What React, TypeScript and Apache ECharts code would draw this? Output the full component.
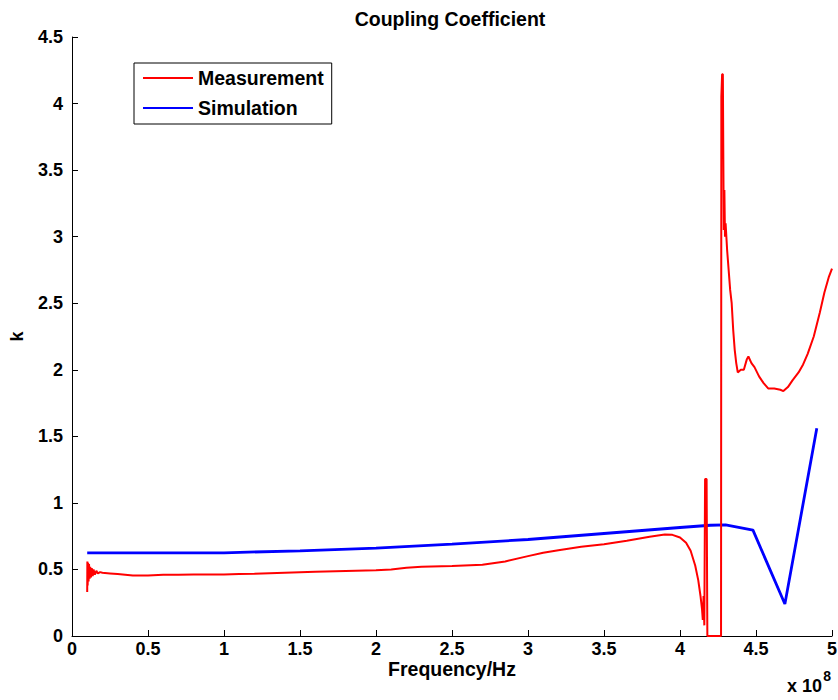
import React, { useEffect, useRef } from "react";
import * as echarts from "echarts";

const chartTitle = "Coupling Coefficient";
const xAxisName = "Frequency/Hz";
const yAxisName = "k";
const seriesNames = ["Measurement", "Simulation"];

// x in units of 1e8 Hz
const measurement: [number, number][] = [
  [0.100, 0.33], [0.101, 0.56], [0.103, 0.38], [0.106, 0.55], [0.109, 0.41], [0.112, 0.54],
  [0.116, 0.43], [0.120, 0.52], [0.125, 0.44], [0.130, 0.51], [0.136, 0.45], [0.142, 0.50],
  [0.150, 0.46], [0.160, 0.49], [0.170, 0.47], [0.185, 0.48], [0.20, 0.475], [0.25, 0.47],
  [0.30, 0.465], [0.40, 0.455], [0.50, 0.455], [0.60, 0.46], [0.70, 0.46], [0.80, 0.462],
  [0.90, 0.462], [1.00, 0.462], [1.10, 0.465], [1.20, 0.468], [1.40, 0.475], [1.60, 0.482],
  [1.80, 0.488], [2.00, 0.494], [2.10, 0.50], [2.20, 0.512], [2.30, 0.52], [2.50, 0.525],
  [2.70, 0.535], [2.85, 0.56], [3.00, 0.60], [3.10, 0.625], [3.20, 0.645], [3.35, 0.67],
  [3.50, 0.69], [3.65, 0.715], [3.80, 0.745], [3.90, 0.762], [3.95, 0.76], [4.00, 0.74],
  [4.04, 0.70], [4.07, 0.64], [4.10, 0.53], [4.12, 0.42], [4.135, 0.30], [4.145, 0.20],
  [4.15, 0.12], [4.155, 0.30], [4.16, 0.08], [4.165, 1.18], [4.175, 1.18], [4.18, 0],
  [4.27, 0], [4.272, 4.05], [4.277, 4.22], [4.282, 4.22], [4.285, 3.6], [4.288, 3.05],
  [4.292, 3.35], [4.296, 3.0], [4.30, 3.1], [4.31, 2.9], [4.32, 2.75], [4.33, 2.6],
  [4.34, 2.5], [4.35, 2.3], [4.36, 2.15], [4.37, 2.05], [4.38, 1.98], [4.40, 2.0],
  [4.42, 2.0], [4.44, 2.08], [4.45, 2.1], [4.47, 2.05], [4.49, 2.02], [4.52, 1.95],
  [4.55, 1.9], [4.58, 1.86], [4.62, 1.86], [4.66, 1.85], [4.68, 1.84], [4.71, 1.87],
  [4.74, 1.92], [4.78, 1.98], [4.81, 2.04], [4.84, 2.12], [4.88, 2.25], [4.92, 2.43],
  [4.95, 2.58], [4.98, 2.7], [5.00, 2.76],
];

const simulation: [number, number][] = [
  [0.1, 0.625], [1.0, 0.625], [1.5, 0.64], [2.0, 0.66], [2.5, 0.69], [3.0, 0.725],
  [3.5, 0.77], [4.0, 0.815], [4.2, 0.832], [4.3, 0.835], [4.48, 0.795], [4.69, 0.24],
  [4.9, 1.56],
];

const FONT = "Liberation Sans, Arial, sans-serif";

export default function App() {
  const ref = useRef<HTMLDivElement>(null);
  useEffect(() => {
    if (!ref.current) return;
    const chart = echarts.init(ref.current, undefined, { renderer: "svg" });
    chart.setOption({
      animation: false,
      backgroundColor: "#ffffff",
      title: {
        text: chartTitle,
        left: 445,
        textAlign: "center",
        top: 4,
        textStyle: { fontFamily: FONT, fontSize: 19.5, fontWeight: "bold", color: "#000" },
      },
      legend: {
        orient: "vertical",
        left: 134,
        top: 63,
        padding: [5, 8, 6, 9],
        itemGap: 10,
        itemWidth: 50,
        itemHeight: 2,
        icon: "rect",
        borderColor: "#000",
        borderWidth: 1,
        backgroundColor: "#fff",
        textStyle: { fontFamily: FONT, fontSize: 19.5, fontWeight: "bold", color: "#000", lineHeight: 18 },
        data: seriesNames,
      },
      grid: { left: 72, right: 6, top: 37, bottom: 64, containLabel: false, outerBoundsMode: "none" },
      xAxis: {
        type: "value",
        min: 0,
        max: 5,
        interval: 0.5,
        name: xAxisName,
        nameLocation: "middle",
        nameGap: 23,
        nameMoveOverlap: false,
        nameTextStyle: {
          fontFamily: FONT, fontSize: 19.5, fontWeight: "bold", color: "#000",
          verticalAlign: "top",
        },
        axisLine: { lineStyle: { color: "#000", width: 1 } },
        axisTick: { inside: true, length: 6, lineStyle: { color: "#000" } },
        axisLabel: {
          margin: 4, fontFamily: FONT, fontSize: 18, fontWeight: "bold", color: "#000",
          showMaxLabel: true,
        },
        splitLine: { show: false },
      },
      yAxis: {
        type: "value",
        min: 0,
        max: 4.5,
        interval: 0.5,
        name: yAxisName,
        nameLocation: "middle",
        nameGap: 46,
        nameMoveOverlap: false,
        nameTextStyle: { fontFamily: FONT, fontSize: 18, fontWeight: "bold", color: "#000" },
        axisLine: { show: true, lineStyle: { color: "#000", width: 1 } },
        axisTick: { show: true, inside: true, length: 6, lineStyle: { color: "#000" } },
        axisLabel: { margin: 9, fontFamily: FONT, fontSize: 18, fontWeight: "bold", color: "#000" },
        splitLine: { show: false },
      },
      graphic: [
        {
          type: "text",
          right: 16,
          top: 677,
          style: { text: "x 10", fontFamily: FONT, fontSize: 18, fontWeight: "bold", fill: "#000" },
        },
        {
          type: "text",
          right: 7,
          top: 669,
          style: { text: "8", fontFamily: FONT, fontSize: 14, fontWeight: "bold", fill: "#000" },
        },
      ],
      series: [
        {
          name: seriesNames[0],
          type: "line",
          data: measurement,
          showSymbol: false,
          symbol: "none",
          lineStyle: { color: "#ff0000", width: 2 },
          itemStyle: { color: "#ff0000" },
          z: 3,
        },
        {
          name: seriesNames[1],
          type: "line",
          data: simulation,
          showSymbol: false,
          symbol: "none",
          lineStyle: { color: "#0000ff", width: 2.8 },
          itemStyle: { color: "#0000ff" },
          z: 2,
        },
      ],
    });
    return () => chart.dispose();
  }, []);
  return (
    <div
      ref={ref}
      style={{ position: "absolute", left: 0, top: 0, width: 838, height: 700 }}
    />
  );
}
